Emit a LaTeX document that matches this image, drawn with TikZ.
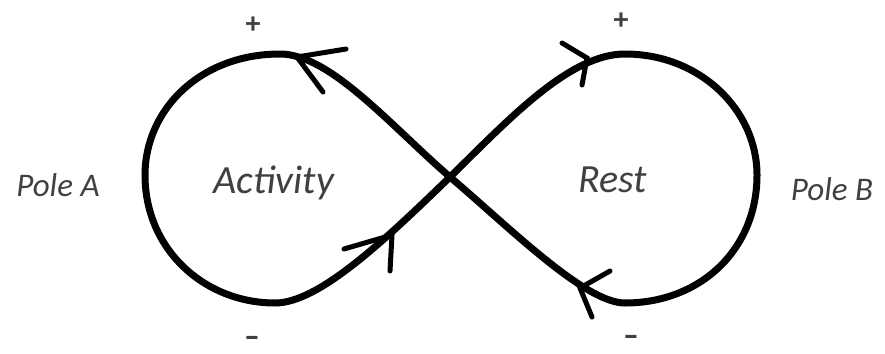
\documentclass[tikz,border=0pt]{standalone}
\usepackage{fontspec}
\setmainfont{Carlito}
\definecolor{txtgrey}{HTML}{404040}
\begin{document}
\begin{tikzpicture}[x=1pt,y=-1pt,
  loop/.style={line width=7pt,line cap=round,line join=round},
  barb/.style={line width=5pt,line cap=round},
  lbl/.style={text=txtgrey,inner sep=0pt,anchor=base,font=\itshape\fontsize{40}{44}\selectfont},
  pole/.style={text=txtgrey,inner sep=0pt,anchor=base,font=\itshape\fontsize{33}{36}\selectfont},
  sign/.style={text=txtgrey,inner sep=0pt,font=\bfseries\fontsize{30}{34}\selectfont},
  minus/.style={sign,xscale=1.5,text height=1ex,text depth=0pt}]
\useasboundingbox (0,0) rectangle (885,353);
\coordinate (C) at (450,177);
\coordinate (TL) at (280,54);
\coordinate (L) at (145,175);
\coordinate (BL) at (275,303);
\coordinate (TR) at (625,54);
\coordinate (R) at (757,175);
\coordinate (BR) at (625,303);
\draw[loop] (C) .. controls (390,125) and (330,54) .. (TL)
  .. controls (200,54) and (145,110) .. (L)
  .. controls (145,250) and (205,303) .. (BL)
  .. controls (318,303) and (382,243) .. (C)
  .. controls (510,118) and (570,54) .. (TR)
  .. controls (700,54) and (757,110) .. (R)
  .. controls (757,250) and (700,303) .. (BR)
  .. controls (585,303) and (510,228) .. (C);
% arrow barbs
\coordinate (a1) at (297,57);
\coordinate (a2) at (392,235);
\coordinate (a3) at (587,58);
\coordinate (a4) at (580,288);
\draw[barb] (346,49) -- (a1) -- (323,92);
\draw[barb] (344,249) -- (a2) -- (390,271);
\draw[barb] (562,43) -- (a3) -- (582,85);
\draw[barb] (610,271) -- (a4) -- (592,317);
% labels
\node[lbl] (act) at (274,193) {Activity};
\node[lbl] (rest) at (613,192) {Rest};
\node[pole] (pa) at (58,196) {Pole A};
\node[pole] (pb) at (832,200) {Pole B};
\node[sign] (p1) at (253,25) {+};
\node[sign] (p2) at (621,21) {+};
\node[minus] (m1) at (252,344) {-};
\node[minus] (m2) at (631,343) {-};
\end{tikzpicture}
\end{document}
